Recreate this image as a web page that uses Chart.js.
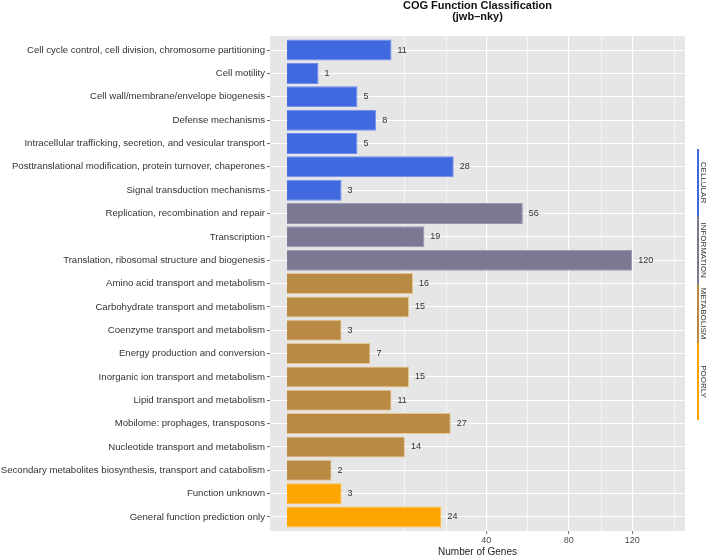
<!DOCTYPE html>
<html>
<head>
<meta charset="utf-8">
<script src="https://cdn.jsdelivr.net/npm/chart.js@4"></script>
<style>
html,body{margin:0;padding:0;background:#fff;}
#wrap{width:707px;height:557px;}
</style>
</head>
<body>
<div id="wrap"><canvas id="c" width="707" height="557"></canvas></div>
<script>
const categories = [
  "Cell cycle control, cell division, chromosome partitioning",
  "Cell motility",
  "Cell wall/membrane/envelope biogenesis",
  "Defense mechanisms",
  "Intracellular trafficking, secretion, and vesicular transport",
  "Posttranslational modification, protein turnover, chaperones",
  "Signal transduction mechanisms",
  "Replication, recombination and repair",
  "Transcription",
  "Translation, ribosomal structure and biogenesis",
  "Amino acid transport and metabolism",
  "Carbohydrate transport and metabolism",
  "Coenzyme transport and metabolism",
  "Energy production and conversion",
  "Inorganic ion transport and metabolism",
  "Lipid transport and metabolism",
  "Mobilome: prophages, transposons",
  "Nucleotide transport and metabolism",
  "Secondary metabolites biosynthesis, transport and catabolism",
  "Function unknown",
  "General function prediction only"
];
const geneCounts = [11, 1, 5, 8, 5, 28, 3, 56, 19, 120, 16, 15, 3, 7, 15, 11, 27, 14, 2, 3, 24];
const groupOf = [
  "CELLULAR","CELLULAR","CELLULAR","CELLULAR","CELLULAR","CELLULAR","CELLULAR",
  "INFORMATION","INFORMATION","INFORMATION",
  "METABOLISM","METABOLISM","METABOLISM","METABOLISM","METABOLISM","METABOLISM","METABOLISM","METABOLISM","METABOLISM",
  "POORLY","POORLY"
];
const groupNames = ["CELLULAR", "INFORMATION", "METABOLISM", "POORLY"];
const groupColors = ["#4068DF", "#7A7893", "#B98A44", "#FFA500"];
const groupBorders = ["#6F8DF0", "#9997AE", "#E6C590", "#FFC04A"];
const xTickLabels = [40, 80, 120];
const xGridValues = [14, 25.6, 40, 58.4, 80, 99.4, 120, 151];
const titleLines = ["COG Function Classification", "(jwb\u2013nky)"];
const xTitle = "Number of Genes";

const FONT = "'Liberation Sans', Arial, Helvetica, sans-serif";
const colorFor = g => groupColors[groupNames.indexOf(g)];
const borderFor = g => groupBorders[groupNames.indexOf(g)];

const panelBg = {
  id: 'panelBg',
  beforeDraw(chart) {
    const {ctx, chartArea: a} = chart;
    ctx.save();
    ctx.fillStyle = '#E6E6E6';
    ctx.fillRect(a.left, a.top, a.right - a.left, a.bottom - a.top);
    ctx.restore();
  }
};

const valueLabels = {
  id: 'valueLabels',
  afterDatasetsDraw(chart) {
    const {ctx} = chart;
    const meta = chart.getDatasetMeta(0);
    ctx.save();
    ctx.font = "9px " + FONT;
    ctx.fillStyle = '#333';
    ctx.textBaseline = 'middle';
    ctx.textAlign = 'left';
    meta.data.forEach((el, i) => {
      ctx.fillText(String(geneCounts[i]), el.x + 6, el.y);
    });
    ctx.restore();
  }
};

const groupStrip = {
  id: 'groupStrip',
  afterDraw(chart) {
    const {ctx} = chart;
    const bounds = [149, 216, 284, 343, 420];
    const x = 698;
    ctx.save();
    groupNames.forEach((g, i) => {
      const y0 = bounds[i], y1 = bounds[i + 1];
      ctx.strokeStyle = groupColors[i];
      ctx.lineWidth = 2;
      ctx.beginPath();
      ctx.moveTo(x, y0);
      ctx.lineTo(x, y1);
      ctx.stroke();
      ctx.save();
      ctx.translate(x + 5.5, (y0 + y1) / 2);
      ctx.rotate(Math.PI / 2);
      ctx.font = "8px " + FONT;
      ctx.fillStyle = '#333';
      ctx.textAlign = 'center';
      ctx.textBaseline = 'middle';
      ctx.fillText(g, 0, 0);
      ctx.restore();
    });
    ctx.restore();
  }
};

new Chart(document.getElementById('c'), {
  type: 'bar',
  data: {
    datasets: [{
      data: geneCounts.map((v, i) => ({x: Math.sqrt(v), y: i})),
      backgroundColor: groupOf.map(colorFor),
      borderColor: groupOf.map(borderFor),
      borderWidth: 1,
      barPercentage: 0.9,
      categoryPercentage: 1.0
    }]
  },
  options: {
    indexAxis: 'y',
    responsive: false,
    animation: false,
    devicePixelRatio: 1,
    layout: {padding: {left: 0, right: 22, top: 0, bottom: 0}},
    plugins: {
      legend: {display: false},
      tooltip: {enabled: false},
      title: {
        display: true,
        text: titleLines,
        fullSize: false,
        color: '#111',
        font: {family: FONT, size: 11, weight: 'bold', lineHeight: 1.05},
        padding: {top: 0, bottom: 13}
      }
    },
    scales: {
      x: {
        type: 'linear',
        min: -0.54,
        max: 12.63,
        border: {display: false},
        afterBuildTicks(scale) {
          scale.ticks = xGridValues.map(v => ({value: Math.sqrt(v)}));
        },
        afterFit(scale) { scale.height = 26; },
        grid: {
          color: '#FFFFFF',
          lineWidth: ctx => (xTickLabels.includes(xGridValues[ctx.index]) ? 1.2 : 0.6),
          tickLength: 3,
          tickColor: ctx => (xTickLabels.includes(xGridValues[ctx.index]) ? '#444' : 'rgba(0,0,0,0)'),
          tickWidth: 0.8
        },
        ticks: {
          autoSkip: false,
          maxRotation: 0,
          padding: 1,
          color: '#4D4D4D',
          font: {family: FONT, size: 9},
          callback: (value, index) => (xTickLabels.includes(xGridValues[index]) ? String(xGridValues[index]) : '')
        },
        title: {
          display: true,
          text: xTitle,
          color: '#222',
          font: {family: FONT, size: 10, lineHeight: 1.0},
          padding: {top: 0, bottom: 0}
        }
      },
      y: {
        type: 'linear',
        min: -0.6,
        max: 20.6,
        reverse: true,
        offset: false,
        border: {display: false},
        afterBuildTicks(scale) {
          scale.ticks = categories.map((c, i) => ({value: i}));
        },
        afterFit(scale) { scale.width = 270; },
        grid: {
          offset: false,
          color: '#FFFFFF',
          lineWidth: 1.1,
          tickLength: 3,
          tickColor: '#444',
          tickWidth: 0.8
        },
        ticks: {
          autoSkip: false,
          padding: 2,
          color: '#333',
          font: {family: FONT, size: 9.65},
          callback: value => categories[value]
        }
      }
    }
  },
  plugins: [panelBg, valueLabels, groupStrip]
});
</script>
</body>
</html>
